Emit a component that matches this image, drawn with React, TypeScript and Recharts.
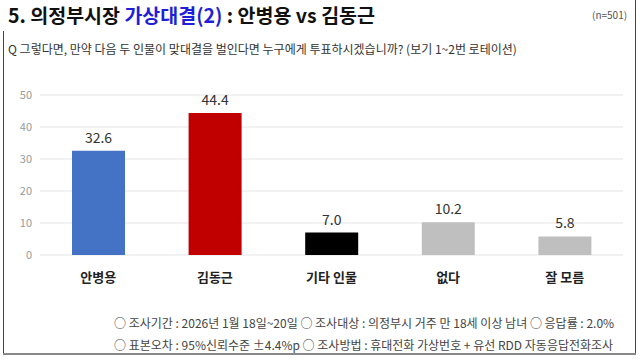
import React from 'react'
import { BarChart, Bar, XAxis, YAxis, CartesianGrid, Cell, LabelList } from 'recharts'

// survey result (%)
const categories = ['안병용', '김동근', '기타 인물', '없다', '잘 모름']
const values = [32.6, 44.4, 7.0, 10.2, 5.8]
const barColors = ['#4472c4', '#c00000', '#000000', '#bfbfbf', '#bfbfbf']
const yTicks = [0, 10, 20, 30, 40, 50]

const font = '"Noto Sans CJK KR", "Noto Sans", sans-serif'

export default function App() {
  const data = categories.map((name, i) => ({ name, value: values[i] }))

  return (
    <div style={{ position: 'absolute', left: 0, top: 0, width: 642, height: 359, background: '#fff', fontFamily: font, overflow: 'hidden' }}>
      {/* frame */}
      <div style={{ position: 'absolute', left: 3, top: 31, width: 1, height: 324, background: '#444' }} />
      <div style={{ position: 'absolute', left: 635, top: 0, width: 1, height: 355, background: '#444' }} />
      <div style={{ position: 'absolute', left: 3, top: 353, width: 633, height: 2, background: '#888' }} />

      {/* header */}
      <div style={{ position: 'absolute', left: 8, top: 0, fontSize: 19.5, fontWeight: 700, color: '#111', whiteSpace: 'nowrap', lineHeight: '30px' }}>
        5. 의정부시장 <span style={{ color: '#1f1fd6' }}>가상대결(2)</span> : 안병용 vs 김동근
      </div>
      <div style={{ position: 'absolute', left: 592, top: 8, fontSize: 10, color: '#555', lineHeight: '14px' }}>(n=501)</div>
      <div style={{ position: 'absolute', left: 8, top: 41, fontSize: 12, color: '#333', whiteSpace: 'nowrap', lineHeight: '16px' }}>
        Q 그렇다면, 만약 다음 두 인물이 맞대결을 벌인다면 누구에게 투표하시겠습니까? (보기 1~2번 로테이션)
      </div>

      <div style={{ position: 'absolute', left: 0, top: 0 }}>
        <BarChart width={642} height={359} data={data} margin={{ top: 95, right: 19, bottom: 74, left: 0 }}>
          <CartesianGrid vertical={false} stroke="#e4e4e4" />
          <XAxis
            dataKey="name"
            axisLine={false}
            tickLine={false}
            height={30}
            tickMargin={12}
            tick={{ fill: '#222', fontSize: 13, fontWeight: 700, fontFamily: font }}
          />
          <YAxis
            domain={[0, 50]}
            ticks={yTicks}
            width={40}
            axisLine={false}
            tickLine={false}
            tick={{ fill: '#999', fontSize: 11, fontFamily: font }}
          />
          <Bar dataKey="value" barSize={53} isAnimationActive={false}>
            {data.map((d, i) => (
              <Cell key={d.name} fill={barColors[i]} />
            ))}
            <LabelList
              dataKey="value"
              position="top"
              offset={8}
              formatter={(v: any) => Number(v).toFixed(1)}
              style={{ fill: '#333', fontSize: 14, fontFamily: font }}
            />
          </Bar>
        </BarChart>
      </div>

      {/* footer */}
      <div style={{ position: 'absolute', left: 114, top: 312, fontSize: 12, color: '#444', whiteSpace: 'nowrap', lineHeight: '22px' }}>
        <div>○ 조사기간 : 2026년 1월 18일~20일 ○ 조사대상 : 의정부시 거주 만 18세 이상 남녀 ○ 응답률 : 2.0%</div>
        <div>○ 표본오차 : 95%신뢰수준 ±4.4%p ○ 조사방법 : 휴대전화 가상번호 + 유선 RDD 자동응답전화조사</div>
      </div>
    </div>
  )
}
